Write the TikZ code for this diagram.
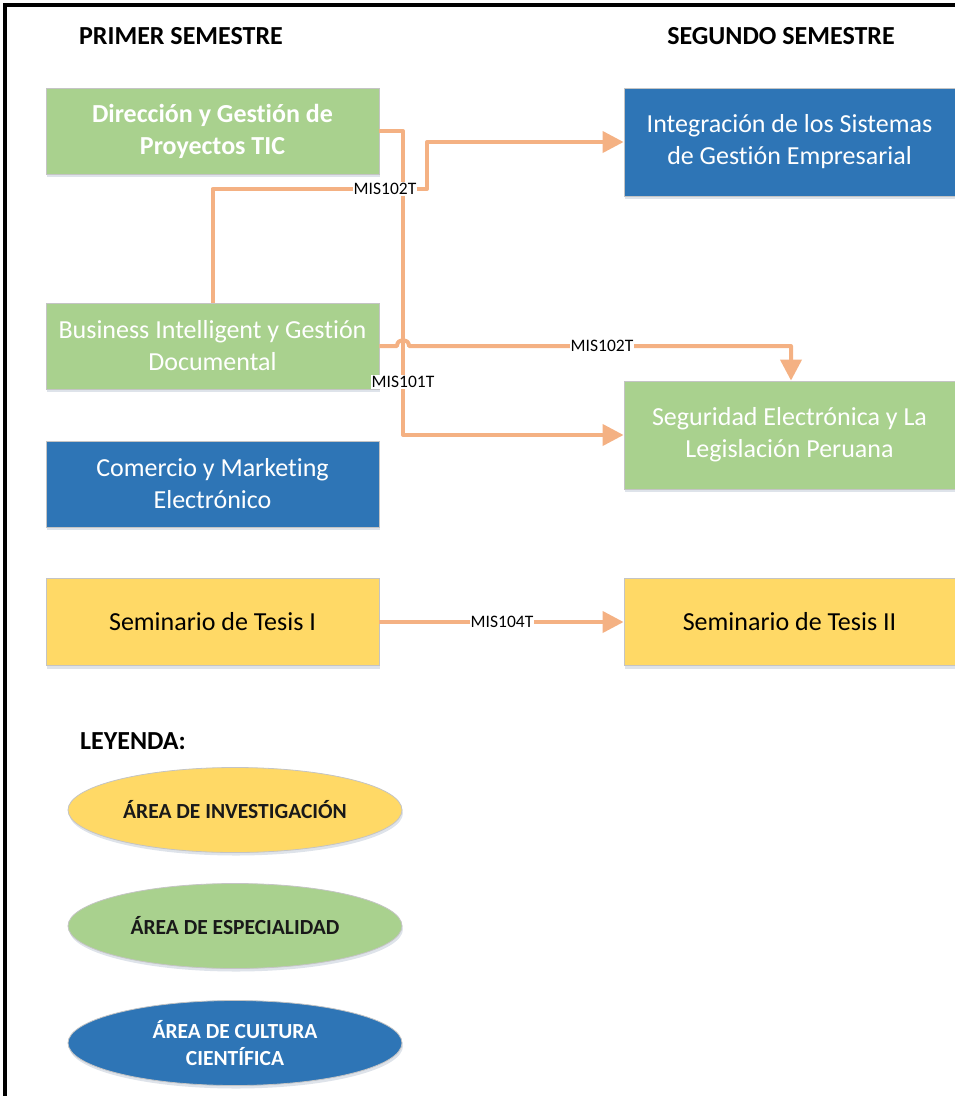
\documentclass[tikz,border=0pt]{standalone}
\usepackage{fontspec}
\setmainfont{Carlito}[Ligatures=NoCommon]
\usetikzlibrary{arrows.meta,shadows,shapes.geometric}
\definecolor{cgreen}{HTML}{A9D18E}
\definecolor{cblue}{HTML}{2E75B6}
\definecolor{cyellow}{HTML}{FFD966}
\definecolor{cconn}{HTML}{F4B183}
\definecolor{cedge}{HTML}{C4C4C4}
\definecolor{cshadow}{HTML}{D6DCE5}
\begin{document}
\begin{tikzpicture}[x=1pt,y=-1pt,
  shad/.style={drop shadow={shadow xshift=1pt,shadow yshift=-3pt,fill=cshadow,opacity=0.8}},
  box/.style={shad,draw=cedge,line width=0.8pt,inner sep=0pt,align=center,
    font=\fontsize{26}{32}\selectfont,text=white},
  lbox/.style={box,minimum width=333pt,minimum height=86pt},
  rbox/.style={box,minimum width=331pt,minimum height=108pt},
  legend/.style={shad,ellipse,draw=cedge,line width=0.8pt,inner sep=0pt,
    minimum width=334pt,minimum height=85pt,align=center,
    font=\fontsize{21.5}{27}\selectfont\bfseries},
  heading/.style={font=\fontsize{26}{30}\selectfont\bfseries},
  conn/.style={draw=cconn,line width=4pt,line join=round},
  arr/.style={conn,-{Triangle[length=21pt,width=21pt]}},
  lab/.style={fill=white,inner sep=1pt,font=\fontsize{17.5}{20}\selectfont}
]
\useasboundingbox (0,0) rectangle (955,1096);
% frame
\draw[line width=4pt] (5,1096) -- (5,5) -- (955,5);

% headings
\node[heading] (h1) at (181,36) {PRIMER SEMESTRE};
\node[heading] (h2) at (781,36) {SEGUNDO SEMESTRE};

% first semester
\node[lbox,fill=cgreen,font=\fontsize{26}{32}\selectfont\bfseries] (d1) at (212.5,131)
  {Dirección y Gestión de\\Proyectos TIC};
\node[lbox,fill=cgreen] (bi) at (212.5,346)
  {Business Intelligent y Gestión\\Documental};
\node[lbox,fill=cblue] (cm) at (212.5,484)
  {Comercio y Marketing\\Electrónico};
\node[lbox,fill=cyellow,text=black,minimum height=87pt] (t1) at (212.5,622)
  {Seminario de Tesis I};

% second semester
\node[rbox,fill=cblue] (ig) at (789.5,142)
  {Integración de los Sistemas\\de Gestión Empresarial};
\node[rbox,fill=cgreen] (sg) at (789.5,435)
  {Seguridad Electrónica y La\\Legislación Peruana};
\node[lbox,fill=cyellow,text=black,minimum width=331pt,minimum height=87pt] (t2) at (789.5,622)
  {Seminario de Tesis II};

% connector helpers
\coordinate (v1) at (403,0);
\coordinate (c2) at (427,189);
\coordinate (hopa) at (397,346);
\coordinate (hopb) at (409,346);
\coordinate (v3) at (791,0);

% connectors
\draw[arr] (d1.east) -- (d1.east -| v1) |- (sg.west);
\draw[arr] (bi.north) |- (c2) |- (ig.west);
\draw[arr] (bi.east) -- (hopa) .. controls (397,338) and (409,338) .. (hopb)
  -- (hopb -| v3) -- (v3 |- sg.north);
\draw[arr] (t1.east) -- (t2.west);

% labels
\node[lab] (l1) at (385,189) {MIS102T};
\node[lab] (l2) at (403,382) {MIS101T};
\node[lab] (l3) at (602,346) {MIS102T};
\node[lab] (l4) at (502,622) {MIS104T};

% legend
\node[font=\fontsize{26}{30}\selectfont\bfseries] (ley) at (133,741) {LEYENDA:};
\node[legend,fill=cyellow,text=black!90] (e1) at (235,810) {ÁREA DE INVESTIGACIÓN};
\node[legend,fill=cgreen,text=black!90] (e2) at (235,926) {ÁREA DE ESPECIALIDAD};
\node[legend,fill=cblue,text=white] (e3) at (235,1043) {ÁREA DE CULTURA\\CIENTÍFICA};
\end{tikzpicture}
\end{document}
